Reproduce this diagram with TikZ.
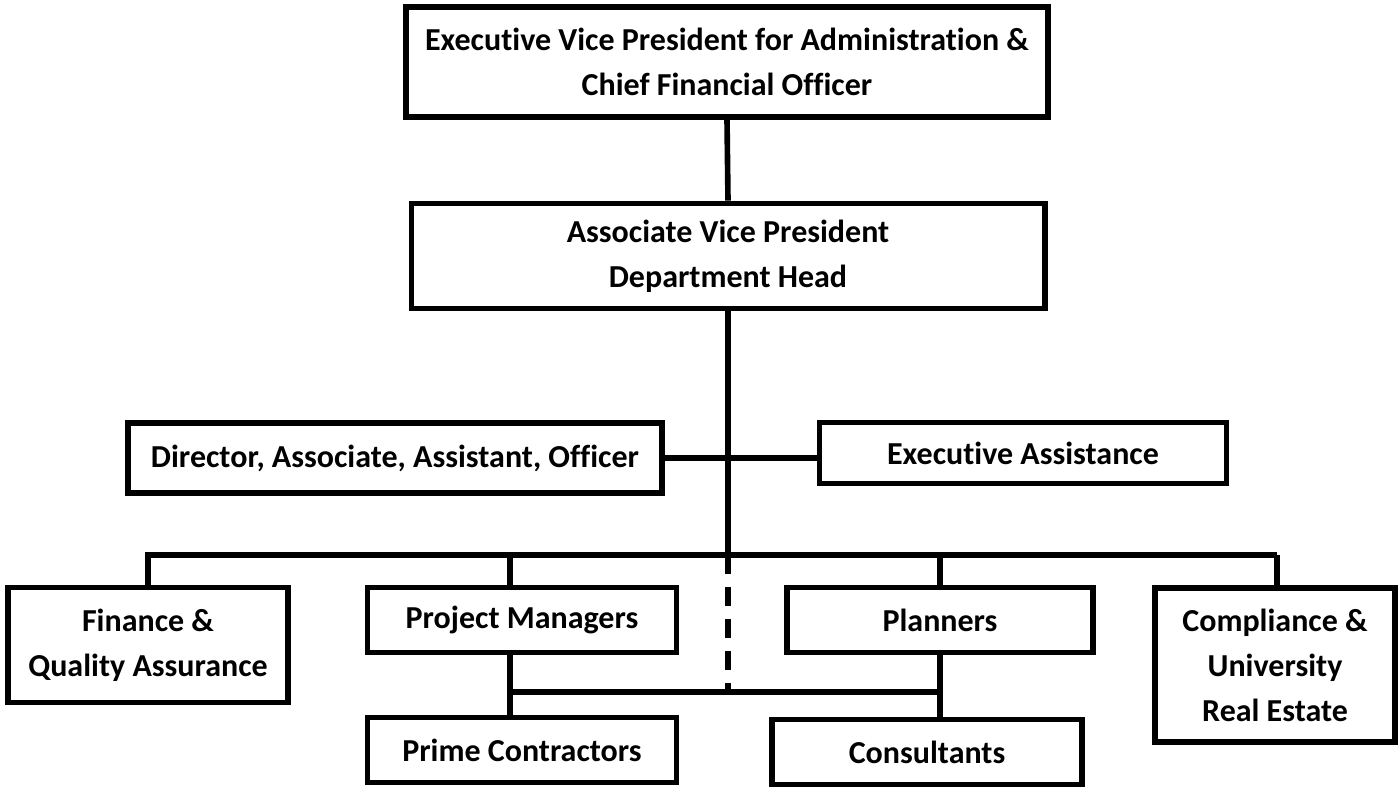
\documentclass[tikz,border=0pt]{standalone}
\usepackage{fontspec}
\setmainfont{Carlito}[Ligatures=NoCommon]
\usetikzlibrary{positioning,calc}

\begin{document}
\begin{tikzpicture}[x=0.01cm,y=-0.01cm,
  box/.style={draw=black,line width=1.6pt,fill=white,align=center,inner sep=0pt,
    font=\bfseries\fontsize{9.1}{12.8}\selectfont},
  link/.style={black,line width=1.6pt},
  maybe/.style={link,dash pattern=on 5.5pt off 3.6pt}]
\useasboundingbox (0,0) rectangle (1400,787);
% top of the chart
\node[box,minimum width=6.42cm,minimum height=1.10cm] (evp) at (727,62) {Executive Vice President for Administration \&\\Chief Financial Officer};
\node[box,minimum width=6.33cm,minimum height=1.05cm] (avp) at (728,256) {Associate Vice President\\Department Head};
\node[box,minimum width=5.34cm,minimum height=0.70cm] (dir) at (395,458) {Director, Associate, Assistant, Officer};
\node[box,minimum width=4.07cm,minimum height=0.61cm] (exa) at (1023,453) {Executive Assistance};
% units under the bus
\node[box,minimum width=2.80cm,minimum height=1.15cm] (fin) at (148,645) {Finance \&\\Quality Assurance};
\node[box,minimum width=3.09cm,minimum height=0.65cm] (pm) at (522,620) {Project Managers};
\node[box,minimum width=3.06cm,minimum height=0.65cm] (pln) at (940,620) {Planners};
\node[box,minimum width=2.40cm,minimum height=1.54cm] (cmp) at (1275,665) {Compliance \&\\University\\Real Estate};
\node[box,minimum width=3.09cm,minimum height=0.65cm] (pc) at (522,750) {Prime Contractors};
\node[box,minimum width=3.10cm,minimum height=0.65cm] (con) at (927,752) {Consultants};
% bus points
\coordinate (busL) at (145,555);
\coordinate (busR) at (1277,555);
\coordinate (bus) at (728,555);
\coordinate (sub) at (728,692);
% connectors
\draw[link] (evp.south) -- (avp.north);
\draw[link] (avp.south) -- (bus);
\draw[link] (dir.east) -- (dir.east -| exa.west);
\draw[link] (busL) -- (busR);
\draw[link] (busL -| fin.north) -- (fin.north);
\draw[link] (510,555) -- (pm.north -| 510,0);
\draw[link] (busL -| pln.north) -- (pln.north);
\draw[link] (busR) -- (busR |- cmp.north);
\draw[maybe] (bus) -- (sub);
\draw[link] (pm.south -| 510,0) -- (pc.north -| 510,0);
\draw[link] (pln.south) -- (pln.south |- con.north);
\draw[link] (sub -| 510,0) -- (sub -| pln.south);
\end{tikzpicture}
\end{document}
